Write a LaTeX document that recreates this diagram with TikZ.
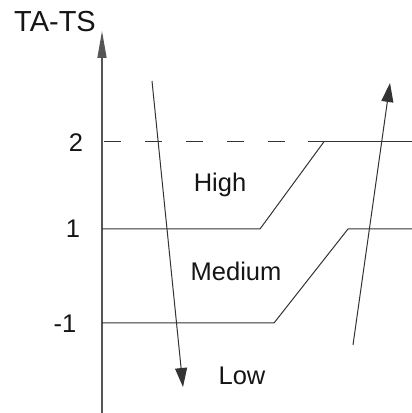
\documentclass[tikz,border=0pt]{standalone}
\usepackage{fontspec}
\setmainfont{Liberation Sans}
\usetikzlibrary{arrows.meta}
\definecolor{linegray}{HTML}{333333}
\definecolor{axisgray}{HTML}{555555}
\definecolor{txt}{HTML}{151515}
\begin{document}
\begin{tikzpicture}[x=1pt,y=1pt,
  lbl/.style={font=\fontsize{25.5}{30}\selectfont, text=txt, inner sep=0pt},
  thin line/.style={draw=linegray, line width=1pt},
  bigarrow/.style={thin line, -{Triangle[length=19pt,width=12pt]}},
  axisarrow/.style={draw=axisgray, line width=1.4pt, -{Triangle[length=27pt,width=9pt]}}]
\useasboundingbox (0,0) rectangle (412,413);
% coordinates
\coordinate (axB) at (102,0);
\coordinate (axT) at (102,382);
\coordinate (d2s) at (104,271.3);
\coordinate (d2e) at (308,271.3);
\coordinate (r2e) at (412,271.3);
\coordinate (l1s) at (102,184);
\coordinate (l1k) at (260,184);
\coordinate (l1t) at (324,271.3);
\coordinate (m1s) at (102,90);
\coordinate (m1k) at (274,90);
\coordinate (m1t) at (348,184);
\coordinate (r1e) at (412,184);
\coordinate (dnS) at (152,332);
\coordinate (dnE) at (183,26);
\coordinate (upS) at (353,68);
\coordinate (upE) at (390,330);
% axis
\draw[axisarrow] (axB) -- (axT);
\node[lbl, font=\fontsize{29}{34}\selectfont] (ylab) at (55,391) {TA-TS};
% level lines
\draw[thin line, dash pattern=on 17pt off 24pt] (d2s) -- (d2e);
\draw[thin line] (d2e) -- (r2e);
\draw[thin line] (l1s) -- (l1k) -- (l1t);
\draw[thin line] (m1s) -- (m1k) -- (m1t) -- (r1e);
% arrows
\draw[bigarrow] (dnS) -- (dnE);
\draw[bigarrow] (upS) -- (upE);
% tick labels
\node[lbl] (t2) at (76,270) {2};
\node[lbl] (t1) at (73,184) {1};
\node[lbl] (tm1) at (65,89) {-1};
% region labels
\node[lbl] (high) at (220,228) {High};
\node[lbl] (med) at (236,142) {Medium};
\node[lbl] (low) at (242,37) {Low};
\end{tikzpicture}
\end{document}
